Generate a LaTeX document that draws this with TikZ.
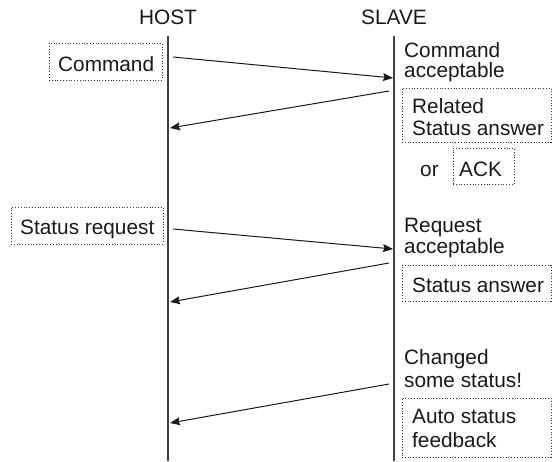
\documentclass[tikz,border=0pt]{standalone}
\usepackage{fontspec}
\setmainfont{Liberation Sans}
\usetikzlibrary{arrows.meta}
\begin{document}
\begin{tikzpicture}[x=1pt,y=-1pt,
  every node/.style={font=\fontsize{20.8}{22}\selectfont, text=black!90},
  lifeline/.style={draw=black!75, line width=1.4pt},
  msg/.style={draw=black!90, line width=1pt, -{Stealth[length=10pt,width=8pt,inset=1.5pt]}},
  dbox/.style={draw=black!80, dotted, line width=0.8pt, inner sep=0pt},
  txt/.style={anchor=base west, inner sep=0pt, align=left}
]
\useasboundingbox (0,0) rectangle (552,461);
% headers
\node[inner sep=0pt] (host) at (168,17) {HOST};
\node[inner sep=0pt] (slave) at (394,17) {SLAVE};
% lifelines
\coordinate (htop) at (168,36); \coordinate (hbot) at (168,461);
\coordinate (stop) at (394,36); \coordinate (sbot) at (394,461);
\draw[lifeline] (htop) -- (hbot);
\draw[lifeline] (stop) -- (sbot);
% left boxes
\node[dbox, minimum width=113pt, minimum height=37pt] (cmdbox) at (105.5,61.5) {};
\node[txt] (cmd) at (58,71) {Command};
\node[dbox, minimum width=152pt, minimum height=37pt] (srbox) at (87,225.5) {};
\node[txt] (sr) at (20,234) {Status request};
% right texts
\node[txt] (ca1) at (404,57) {Command};
\node[txt] (ca2) at (404,77) {acceptable};
\node[dbox, minimum width=149pt, minimum height=54pt] (rsabox) at (476.5,115) {};
\node[txt] (rsa1) at (412,113) {Related};
\node[txt] (rsa2) at (412,135) {Status answer};
\node[txt] (or) at (420,176) {or};
\node[dbox, minimum width=61pt, minimum height=36pt] (ackbox) at (483.5,166) {};
\node[txt] (ack) at (459,176) {ACK};
\node[txt] (ra1) at (404,232) {Request};
\node[txt] (ra2) at (404,253) {acceptable};
\node[dbox, minimum width=149pt, minimum height=36pt] (sabox) at (476.5,283) {};
\node[txt] (sa) at (412,292) {Status answer};
\node[txt] (cs1) at (404,364) {Changed};
\node[txt] (cs2) at (404,387) {some status!};
\node[dbox, minimum width=149pt, minimum height=59pt] (asfbox) at (476.5,427.5) {};
\node[txt] (asf1) at (412,423) {Auto status};
\node[txt] (asf2) at (412,447) {feedback};
% message endpoints
\coordinate (a1s) at (173,57);  \coordinate (a1e) at (393,78);
\coordinate (a2s) at (389,91);  \coordinate (a2e) at (170,128);
\coordinate (a3s) at (173,229); \coordinate (a3e) at (393,249);
\coordinate (a4s) at (389,263); \coordinate (a4e) at (170,302);
\coordinate (a5s) at (389,384); \coordinate (a5e) at (170,423);
\draw[msg] (a1s) -- (a1e);
\draw[msg] (a2s) -- (a2e);
\draw[msg] (a3s) -- (a3e);
\draw[msg] (a4s) -- (a4e);
\draw[msg] (a5s) -- (a5e);
\end{tikzpicture}
\end{document}
